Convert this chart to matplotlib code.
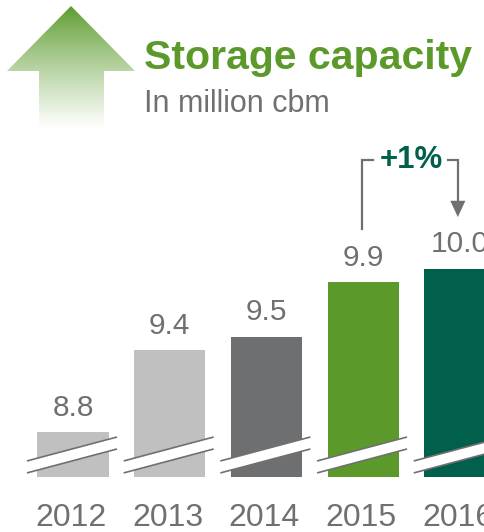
import matplotlib
matplotlib.use("Agg")
import matplotlib.pyplot as plt
import numpy as np
from matplotlib.patches import Polygon

plt.rcParams['font.family'] = ['Liberation Sans', 'DejaVu Sans']

years = ["2012", "2013", "2014", "2015", "2016"]
capacity = [8.8, 9.4, 9.5, 9.9, 10.0]
bar_colors = ["#c0c0c0", "#c0c0c0", "#6e6f71", "#5b9a2a", "#00604c"]
growth_label = "+1%"

GREY = "#707070"
base = 8.469  # broken axis: bars start here

fig = plt.figure(figsize=(4.85, 5.32), dpi=100)
ax = fig.add_axes([0, 0, 1, 1])
ax.set_xlim(-0.755, 4.261)
ax.set_ylim(8.0647, 11.976)
ax.axis("off")

x = np.arange(len(years))
vals = np.array(capacity)
ax.bar(x, vals - base, bottom=base, width=0.735, color=bar_colors, zorder=2)

for xi, v, yr in zip(x, vals, years):
    ax.annotate(f"{v:.1f}", (xi, v), xytext=(0, 17.5), textcoords="offset points",
                ha="center", va="center", fontsize=21.5, color=GREY)
    ax.text(xi - 0.02, 8.168, yr, ha="center", va="center", fontsize=23, color=GREY)
    # axis break: white band with two slanted lines
    xl, xr = xi - 0.476, xi + 0.455
    up = (8.587, 8.763)
    lo = (8.499, 8.675)
    ax.add_patch(Polygon([(xl, up[0]), (xr, up[1]), (xr, lo[1]), (xl, lo[0])],
                         closed=True, facecolor="white", edgecolor="none", zorder=3))
    ax.plot([xl, xr], up, color=GREY, lw=1.2, zorder=4, solid_capstyle="butt")
    ax.plot([xl, xr], lo, color=GREY, lw=1.2, zorder=4, solid_capstyle="butt")

# growth bracket between 2015 and 2016
y_top = 10.8
ax.plot([3 - 0.01, 3 - 0.01, 3.1], [10.293, y_top, y_top], color=GREY, lw=1.6,
        solid_joinstyle="miter")
ax.plot([3.88, 3.98, 3.98], [y_top, y_top, 10.5], color=GREY, lw=1.6,
        solid_joinstyle="miter")
ax.add_patch(Polygon([(3.98 - 0.078, 10.5), (3.98 + 0.078, 10.5), (3.98, 10.38)],
                     closed=True, facecolor=GREY, edgecolor="none"))
ax.text(3.5, y_top, growth_label, ha="center", va="center", fontsize=22.5,
        fontweight="bold", color="#00604c")

# header: gradient arrow, title and unit
hdr = fig.add_axes([0, 0, 1, 1], facecolor="none")
hdr.set_xlim(0, 485)
hdr.set_ylim(532, 0)
hdr.axis("off")

top_rgb = np.array([90, 154, 42]) / 255
t = np.linspace(0, 1, 256)[:, None] ** 0.85
grad = top_rgb * (1 - t) + np.ones(3) * t
grad = np.repeat(grad[:, None, :], 2, axis=1)
arrow = Polygon([(71, 6), (135, 71), (104, 71), (104, 132), (39, 132), (39, 71), (7, 71)],
                closed=True, facecolor="none", edgecolor="none")
hdr.add_patch(arrow)
img = hdr.imshow(grad, extent=(7, 135, 128, 6), aspect="auto", interpolation="bilinear")
img.set_clip_path(arrow)

hdr.text(144, 69, "Storage capacity", ha="left", va="baseline", fontsize=29.5,
         fontweight="bold", color="#5b9a2a")
hdr.text(144, 112, "In million cbm", ha="left", va="baseline", fontsize=22, color=GREY)

fig.savefig("out.png", dpi=100)
